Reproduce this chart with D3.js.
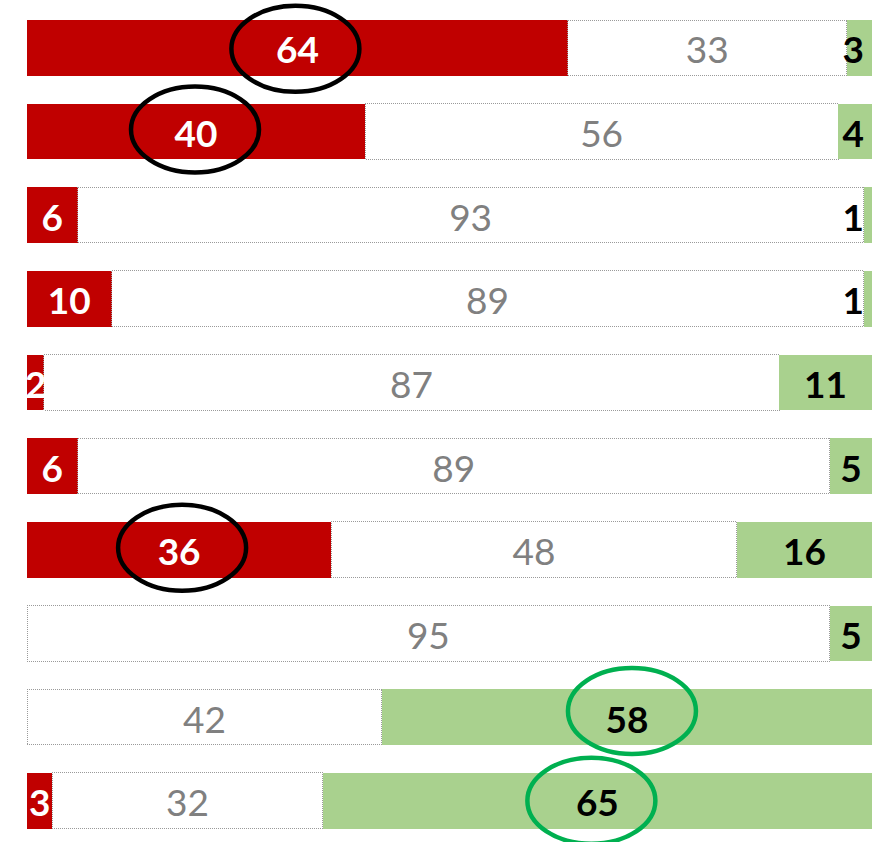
<!DOCTYPE html>
<html>
<head>
<meta charset="utf-8">
<script src="https://cdn.jsdelivr.net/npm/d3@7"></script>
<style>
  html, body { margin: 0; padding: 0; background: #fff; }
  svg { display: block; font-family: Lato, "Open Sans", sans-serif; }
</style>
</head>
<body>
<svg id="chart" width="884" height="842"></svg>
<script>
// Share of responses per row: negative / neutral / positive (percent)
const rows = ["r1", "r2", "r3", "r4", "r5", "r6", "r7", "r8", "r9", "r10"];
const negative = [64, 40, 6, 10, 2, 6, 36, 0, 0, 3];
const neutral  = [33, 56, 93, 89, 87, 89, 48, 95, 42, 32];
const positive = [3, 4, 1, 1, 11, 5, 16, 5, 58, 65];

// Values circled for emphasis: [row index, series]
const highlights = [[0, "neg"], [1, "neg"], [6, "neg"], [8, "pos"], [9, "pos"]];
// Hand-placed nudges of each circle relative to its label (px)
const circleNudge = [[-2, 1], [-1, -2], [3, -2], [5, -6], [-6, 0]];

const svg = d3.select("#chart");
const x0 = 27, x1 = 872;

const x = d3.scaleLinear().domain([0, 100]).range([x0, x1]);
const y = d3.scaleBand().domain(rows).range([20, 828.5]).paddingInner(0.335).paddingOuter(0);

const series = [
  { key: "neg", values: negative, fill: "#C00000", text: "#ffffff", weight: 700 },
  { key: "neu", values: neutral,  fill: "#ffffff", text: "#808080", weight: 400 },
  { key: "pos", values: positive, fill: "#A9D18E", text: "#000000", weight: 700 }
];

// Build stacked segments
const segments = [];
rows.forEach((r, i) => {
  let acc = 0;
  series.forEach(s => {
    const v = s.values[i];
    segments.push({ row: r, i, key: s.key, start: acc, end: acc + v, v, s });
    acc += v;
  });
});

const bars = svg.append("g");
bars.selectAll("rect")
  .data(segments.filter(d => d.v > 0))
  .join("rect")
  .attr("x", d => x(d.start))
  .attr("y", d => y(d.row))
  .attr("width", d => x(d.end) - x(d.start))
  .attr("height", y.bandwidth())
  .attr("fill", d => d.s.fill)
  .attr("stroke", d => d.key === "neu" ? "#9a9a9a" : "none")
  .attr("stroke-width", 1)
  .attr("stroke-dasharray", d => d.key === "neu" ? "1,1" : null)
  .attr("shape-rendering", "crispEdges");

const fontSize = 37;
// Label position: segment centre, kept inside the plot edges
function labelX(d) {
  let cx = x((d.start + d.end) / 2);
  const half = String(d.v).length * fontSize * 0.29;
  if (cx + half > x1 - 8) cx = x1 - 8 - half;
  if (cx - half < x0 - 2) cx = x0 - 2 + half;
  return cx;
}

svg.append("g").selectAll("text")
  .data(segments.filter(d => d.v > 0))
  .join("text")
  .attr("x", labelX)
  .attr("y", d => y(d.row) + y.bandwidth() / 2 + 1)
  .attr("text-anchor", "middle")
  .attr("dominant-baseline", "central")
  .attr("font-size", fontSize)
  .attr("font-weight", d => d.s.weight)
  .attr("fill", d => d.s.text)
  .text(d => d.v);

// Emphasis ellipses
const ellipseData = highlights.map(([i, key], k) => ({
  seg: segments.find(d => d.i === i && d.key === key),
  nudge: circleNudge[k]
}));
svg.append("g").selectAll("ellipse")
  .data(ellipseData)
  .join("ellipse")
  .attr("cx", d => labelX(d.seg) + d.nudge[0])
  .attr("cy", d => y(d.seg.row) + y.bandwidth() / 2 + d.nudge[1])
  .attr("rx", 64)
  .attr("ry", 43)
  .attr("fill", "none")
  .attr("stroke", d => d.seg.key === "pos" ? "#00B050" : "#000000")
  .attr("stroke-width", 4.5);
</script>
</body>
</html>
